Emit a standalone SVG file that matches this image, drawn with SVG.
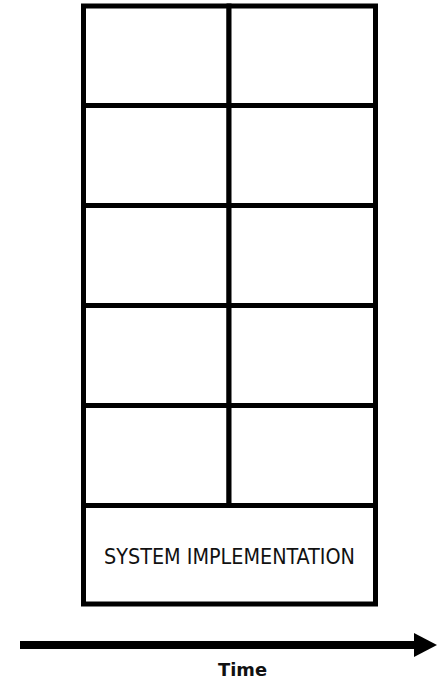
<svg xmlns="http://www.w3.org/2000/svg" width="438" height="681" viewBox="0 0 438 681">
  <defs>
    <style>
      .cell { fill: #ffffff; stroke: #000000; stroke-width: 5; }
      .lbl { font-family: "DejaVu Sans Condensed", "DejaVu Sans", sans-serif; fill: #111111; }
    </style>
  </defs>
  <rect x="0" y="0" width="438" height="681" fill="#ffffff"/>
  <g id="grid">
    <g id="r1c1"><rect class="cell" x="83.5" y="6" width="145.5" height="99.5"/></g>
    <g id="r1c2"><rect class="cell" x="229" y="6" width="146.5" height="99.5"/></g>
    <g id="r2c1"><rect class="cell" x="83.5" y="105.5" width="145.5" height="100"/></g>
    <g id="r2c2"><rect class="cell" x="229" y="105.5" width="146.5" height="100"/></g>
    <g id="r3c1"><rect class="cell" x="83.5" y="205.5" width="145.5" height="100"/></g>
    <g id="r3c2"><rect class="cell" x="229" y="205.5" width="146.5" height="100"/></g>
    <g id="r4c1"><rect class="cell" x="83.5" y="305.5" width="145.5" height="100"/></g>
    <g id="r4c2"><rect class="cell" x="229" y="305.5" width="146.5" height="100"/></g>
    <g id="r5c1"><rect class="cell" x="83.5" y="405.5" width="145.5" height="100"/></g>
    <g id="r5c2"><rect class="cell" x="229" y="405.5" width="146.5" height="100"/></g>
    <g id="impl">
      <rect class="cell" x="83.5" y="505.5" width="292" height="98.5"/>
      <text class="lbl" x="229.5" y="563.5" font-size="21.5" text-anchor="middle" textLength="251" lengthAdjust="spacingAndGlyphs">SYSTEM IMPLEMENTATION</text>
    </g>
  </g>
  <g id="connectors">
    <line x1="20" y1="645" x2="415" y2="645" stroke="#000000" stroke-width="8"/>
    <polygon points="414,633 437,645 414,657" fill="#000000"/>
  </g>
  <g id="time-label">
    <text x="242.5" y="675.5" font-family="'DejaVu Sans', sans-serif" font-weight="bold" font-size="18.5" text-anchor="middle" fill="#111111" textLength="49" lengthAdjust="spacingAndGlyphs">Time</text>
  </g>
</svg>
